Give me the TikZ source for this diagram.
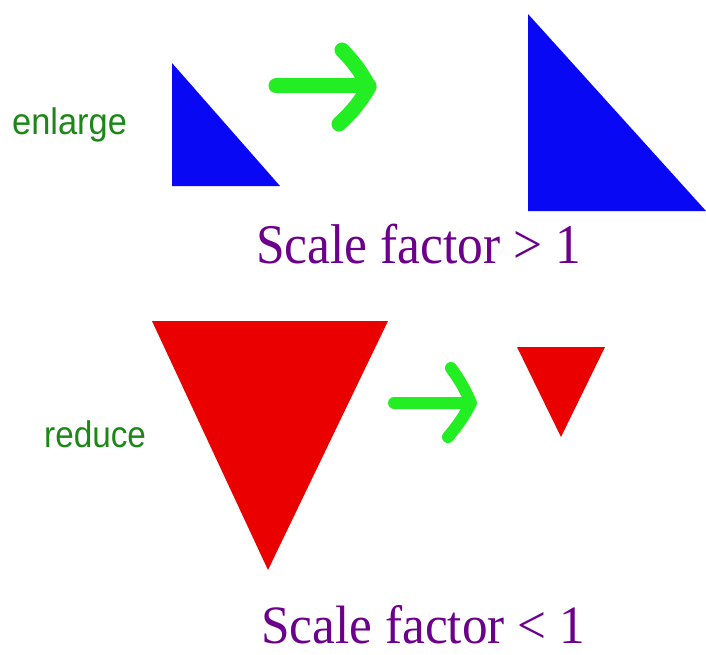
\documentclass[tikz,border=0pt]{standalone}
\usepackage{fontspec}
\setmainfont{Liberation Serif}
\newfontfamily\labelfont{Liberation Sans}
\definecolor{blueT}{RGB}{8,8,245}
\definecolor{redT}{RGB}{235,0,0}
\definecolor{arrowG}{RGB}{35,238,35}
\definecolor{textG}{RGB}{28,135,22}
\definecolor{purpT}{RGB}{108,0,140}
\begin{document}
\begin{tikzpicture}[x=1pt,y=-1pt,
  garrow/.style={draw=arrowG,line cap=round,line join=round},
  lbl/.style={inner sep=0pt,anchor=base west,text=textG,font=\labelfont\fontsize{37}{42}\selectfont},
  sf/.style={inner sep=0pt,anchor=base west,text=purpT,font=\fontsize{56}{62}\selectfont}]
\useasboundingbox (0,0) rectangle (706,655);
% enlarge
\fill[blueT] (172,63) -- (172,186) -- (280,186) -- cycle;
\fill[blueT] (528,14) -- (528,211) -- (706,211) -- cycle;
\draw[garrow,line width=15pt] (276,86) -- (369,86);
\draw[garrow,line width=15pt] (342,50) to[bend left=8] (369,87) to[bend left=8] (339,124);
\node[lbl] (enl) at (12,135) {\scalebox{0.93}[1]{enlarge}};
\node[sf] (s1) at (256,263) {\scalebox{0.92}[1]{Scale factor > 1}};
% reduce
\fill[redT] (152,321) -- (388,321) -- (268,570) -- cycle;
\fill[redT] (517,347) -- (605,347) -- (561,437) -- cycle;
\draw[garrow,line width=12pt] (394,403) -- (470,403);
\draw[garrow,line width=12pt] (451,368) to[bend left=6] (471,403) to[bend left=6] (448,437);
\node[lbl] (red) at (44,447) {\scalebox{0.9}[1]{reduce}};
\node[sf,font=\fontsize{54}{60}\selectfont] (s2) at (261,643) {\scalebox{0.95}[1]{Scale factor < 1}};
\end{tikzpicture}
\end{document}
